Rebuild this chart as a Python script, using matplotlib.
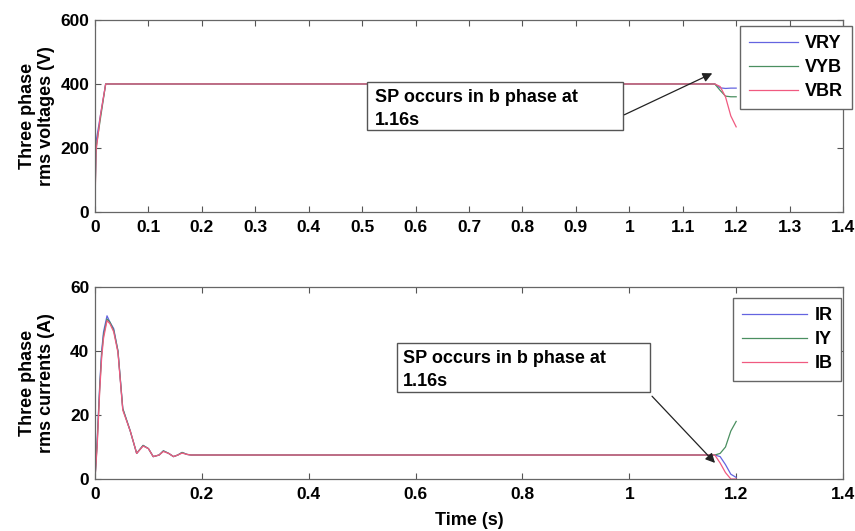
import matplotlib
matplotlib.use("Agg")
import matplotlib.pyplot as plt
from matplotlib.patches import Rectangle

plt.rcParams['font.family'] = ['Liberation Sans', 'DejaVu Sans']
plt.rcParams['font.weight'] = 'bold'
plt.rcParams['axes.labelweight'] = 'bold'
plt.rcParams['font.size'] = 12

# rms line voltages (V)
t_v = [0, 0.002, 0.01, 0.02, 1.16, 1.17, 1.18, 1.19, 1.2]
vry = [40, 220, 300, 400, 400, 388, 386, 387, 387]
vyb = [30, 200, 290, 400, 400, 380, 362, 360, 360]
vbr = [20, 190, 300, 400, 400, 392, 360, 300, 266]

# rms phase currents (A)
t_i = [0, 0.004, 0.009, 0.0125, 0.016, 0.0225, 0.028, 0.035, 0.043, 0.052,
       0.066, 0.078, 0.09, 0.1, 0.109, 0.12, 0.128, 0.138, 0.147, 0.155,
       0.163, 0.172, 0.18, 1.16, 1.17, 1.18, 1.19, 1.2]
ir = [0, 12, 30, 40, 46, 51, 49, 47, 40, 22, 15, 8, 10.5, 9.5, 7, 7.5, 8.8,
      8, 7, 7.5, 8.3, 7.7, 7.5, 7.5, 7.0, 4.5, 1.5, 0.5]
iy = [0, 11, 29, 39, 45, 50, 49, 46.5, 40, 22, 15, 8, 10.5, 9.5, 7, 7.5, 8.8,
      8, 7, 7.5, 8.3, 7.7, 7.5, 7.5, 8.0, 10, 15, 18]
ib = [0, 10, 28, 38, 44, 49.5, 48.5, 46, 39.5, 21.5, 15, 8, 10.3, 9.5, 7, 7.5,
      8.6, 8, 7, 7.5, 8.1, 7.7, 7.5, 7.5, 5.0, 2.0, 0, 0]

c_r, c_y, c_b = '#6464e0', '#4a8f60', '#f05a80'
note = 'SP occurs in b phase at\n1.16s'


def style_axes(ax, xticks, yticks):
    ax.set_xlim(0, 1.4)
    ax.set_xticks(xticks)
    ax.set_yticks(yticks)
    ax.set_ylim(yticks[0], yticks[-1])
    ax.tick_params(direction='in', top=True, right=True, length=4,
                   width=0.8, color='#555555', labelsize=12.5)
    ax.tick_params(axis='x', pad=6)
    ax.tick_params(axis='y', pad=4)
    for s in ax.spines.values():
        s.set_color('#666666')
        s.set_linewidth(0.9)
    ax.set_xticklabels([('%g' % v) for v in xticks])


def add_legend(ax, anchor, hlen, bpad):
    ax.legend(loc='upper left', bbox_to_anchor=anchor, fontsize=13,
              handlelength=hlen, handletextpad=0.4, frameon=True,
              fancybox=False, edgecolor='#666666', framealpha=1,
              borderaxespad=0, labelspacing=0.4, borderpad=bpad)


fig = plt.figure(figsize=(8.55, 5.31), dpi=100)
ax1 = fig.add_axes([0.1111, 0.6008, 0.8749, 0.3616])
ax2 = fig.add_axes([0.1111, 0.0979, 0.8749, 0.3616])

# voltages
ax1.plot(t_v, vry, color=c_r, lw=0.9, label='VRY')
ax1.plot(t_v, vyb, color=c_y, lw=0.9, label='VYB')
ax1.plot(t_v, vbr, color=c_b, lw=0.9, label='VBR')
style_axes(ax1, [round(0.1 * k, 1) for k in range(15)], [0, 200, 400, 600])
ax1.set_ylabel('Three phase\nrms voltages (V)', fontsize=13, linespacing=1.15)
ax1.yaxis.set_label_coords(-0.053, 0.5)
add_legend(ax1, (0.862, 0.969), 2.7, 0.5)
ax1.add_patch(Rectangle((0.509, 256), 0.479, 150, fill=True, fc='white',
                        ec='#555555', lw=1, zorder=4))
ax1.text(0.524, 384, note, fontsize=13, va='top', ha='left', zorder=5,
         linespacing=1.45)
ax1.annotate('', xy=(1.160, 437), xytext=(0.986, 300),
             arrowprops=dict(arrowstyle='-|>', color='#222222', lw=0.9,
                             mutation_scale=14), zorder=5)

# currents
ax2.plot(t_i, ir, color=c_r, lw=0.9, label='IR')
ax2.plot(t_i, iy, color=c_y, lw=0.9, label='IY')
ax2.plot(t_i, ib, color=c_b, lw=0.9, label='IB')
style_axes(ax2, [0, 0.2, 0.4, 0.6, 0.8, 1.0, 1.2, 1.4], [0, 20, 40, 60])
ax2.set_ylabel('Three phase\nrms currents (A)', fontsize=13, linespacing=1.15)
ax2.yaxis.set_label_coords(-0.053, 0.5)
ax2.set_xlabel('Time (s)', fontsize=13, labelpad=7)
add_legend(ax2, (0.853, 0.943), 3.6, 0.5)
ax2.add_patch(Rectangle((0.565, 27.2), 0.474, 15.3, fill=True, fc='white',
                        ec='#555555', lw=1, zorder=4))
ax2.text(0.577, 40.4, note, fontsize=13, va='top', ha='left', zorder=5,
         linespacing=1.45)
ax2.annotate('', xy=(1.164, 4.4), xytext=(1.039, 26.5),
             arrowprops=dict(arrowstyle='-|>', color='#222222', lw=0.9,
                             mutation_scale=14), zorder=5)

fig.savefig('out.png', dpi=100)
